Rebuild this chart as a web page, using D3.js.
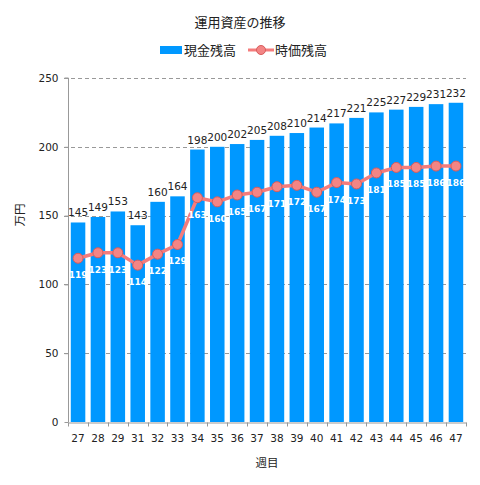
<!DOCTYPE html>
<html>
<head>
<meta charset="utf-8">
<script src="https://cdn.jsdelivr.net/npm/d3@7"></script>
<style>
  body { margin: 0; background: #fff; }
  svg text { font-family: "DejaVu Sans", sans-serif; }
  .jp { font-family: "Noto Sans CJK JP", sans-serif; }
</style>
</head>
<body>
<div id="chart"></div>
<script>
// 週目
const weeks = ['27', '28', '29', '31', '32', '33', '34', '35', '36', '37', '38', '39', '40', '41', '42', '43', '44', '45', '46', '47']
// 現金残高 (万円)
const cashValues = [145, 149, 153, 143, 160, 164, 198, 200, 202, 205, 208, 210, 214, 217, 221, 225, 227, 229, 231, 232]
// 時価残高 (万円)
const marketValues = [119, 123, 123, 114, 122, 129, 163, 160, 165, 167, 171, 172, 167, 174, 173, 181, 185, 185, 186, 186]
const yTicks = [0, 50, 100, 150, 200, 250]

const width = 480
const height = 485
const margin = { top: 78, right: 14, bottom: 63, left: 68 }

const barColor = '#0098ff'
const lineColor = '#f47c7c'

const svg = d3.select('#chart')
    .append('svg')
    .attr('width', width)
    .attr('height', height)

const x = d3.scaleBand()
    .domain(weeks)
    .range([margin.left, width - margin.right])
    .paddingInner(0.27)
    .paddingOuter(0.14)

const y = d3.scaleLinear()
    .domain([0, 250])
    .range([height - margin.bottom, margin.top])

// grid
svg.append('g')
    .selectAll('line')
    .data(yTicks.filter(d => d > 0))
    .enter().append('line')
    .attr('x1', margin.left - 4)
    .attr('x2', width - margin.right)
    .attr('y1', d => Math.round(y(d)) + 0.5)
    .attr('y2', d => Math.round(y(d)) + 0.5)
    .attr('stroke', '#999')
    .attr('stroke-dasharray', '4,3')

// bars
svg.append('g')
    .selectAll('rect')
    .data(weeks)
    .enter().append('rect')
    .attr('x', d => x(d))
    .attr('width', x.bandwidth())
    .attr('y', (d, i) => y(cashValues[i]))
    .attr('height', (d, i) => y(0) - y(cashValues[i]))
    .attr('fill', barColor)

// bar labels
svg.append('g')
    .selectAll('text')
    .data(weeks)
    .enter().append('text')
    .attr('x', d => x(d) + x.bandwidth() / 2)
    .attr('y', (d, i) => y(cashValues[i]) - 6)
    .attr('text-anchor', 'middle')
    .attr('font-size', 10.5)
    .attr('fill', '#222')
    .text((d, i) => cashValues[i])

// y axis
const yAxis = svg.append('g')
    .attr('transform', `translate(${margin.left + 0.5},0)`)
    .call(d3.axisLeft(y).tickValues(yTicks).tickSize(4).tickPadding(6))
yAxis.select('.domain').attr('stroke', '#999').attr('d', `M-4,${y(250)}H0V${y(0)}`)
yAxis.selectAll('.tick line').attr('stroke', '#999')
yAxis.selectAll('.tick text').attr('font-size', 10.5).attr('fill', '#222')
    .style('font-family', '"DejaVu Sans", sans-serif')

// x axis
const xAxis = svg.append('g')
    .attr('transform', `translate(0,${y(0) + 0.5})`)
    .call(d3.axisBottom(x).tickSize(0).tickPadding(12))
xAxis.select('.domain').attr('stroke', '#999')
xAxis.selectAll('.tick text').attr('font-size', 10.5).attr('fill', '#222')
    .style('font-family', '"DejaVu Sans", sans-serif')
// separators between categories
const step = x.step()
xAxis.append('g')
    .selectAll('line')
    .data(weeks.concat(['end']))
    .enter().append('line')
    .attr('x1', (d, i) => Math.round(margin.left + i * step) + 0.5)
    .attr('x2', (d, i) => Math.round(margin.left + i * step) + 0.5)
    .attr('y1', 0)
    .attr('y2', 4)
    .attr('stroke', '#999')

// line
const line = d3.line()
    .x(d => x(d.week) + x.bandwidth() / 2)
    .y(d => y(d.value))
const points = weeks.map((w, i) => ({ week: w, value: marketValues[i] }))

svg.append('path')
    .datum(points)
    .attr('d', line)
    .attr('fill', 'none')
    .attr('stroke', lineColor)
    .attr('stroke-width', 3.5)
    .attr('stroke-linejoin', 'round')

svg.append('g')
    .selectAll('circle')
    .data(points)
    .enter().append('circle')
    .attr('cx', d => x(d.week) + x.bandwidth() / 2)
    .attr('cy', d => y(d.value))
    .attr('r', 5)
    .attr('fill', '#f38585')
    .attr('stroke', '#d85c5c')
    .attr('stroke-width', 1)

svg.append('g')
    .selectAll('text')
    .data(points)
    .enter().append('text')
    .attr('x', d => x(d.week) + x.bandwidth() / 2)
    .attr('y', d => y(d.value) + 20)
    .attr('text-anchor', 'middle')
    .attr('font-size', 9)
    .attr('font-weight', 'bold')
    .attr('fill', '#fff')
    .text(d => d.value)

// title
svg.append('text')
    .attr('class', 'jp')
    .attr('x', 240)
    .attr('y', 27)
    .attr('text-anchor', 'middle')
    .attr('font-size', 13)
    .attr('fill', '#222')
    .text('運用資産の推移')

// legend
const legend = svg.append('g').attr('transform', 'translate(160,52)')
legend.append('rect')
    .attr('x', 0).attr('y', -6)
    .attr('width', 22).attr('height', 8)
    .attr('fill', barColor)
legend.append('text')
    .attr('class', 'jp')
    .attr('x', 24).attr('y', 3)
    .attr('font-size', 13)
    .attr('fill', '#222')
    .text('現金残高')
legend.append('line')
    .attr('x1', 88).attr('x2', 114)
    .attr('y1', -2).attr('y2', -2)
    .attr('stroke', lineColor)
    .attr('stroke-width', 3)
legend.append('circle')
    .attr('cx', 101).attr('cy', -2).attr('r', 4.5)
    .attr('fill', '#f38585')
    .attr('stroke', '#d85c5c')
legend.append('text')
    .attr('class', 'jp')
    .attr('x', 115).attr('y', 3)
    .attr('font-size', 13)
    .attr('fill', '#222')
    .text('時価残高')

// axis titles
svg.append('text')
    .attr('class', 'jp')
    .attr('x', 267)
    .attr('y', 467)
    .attr('text-anchor', 'middle')
    .attr('font-size', 11.5)
    .attr('fill', '#222')
    .text('週目')

svg.append('text')
    .attr('class', 'jp')
    .attr('transform', 'translate(24,215) rotate(-90)')
    .attr('text-anchor', 'middle')
    .attr('font-size', 11.5)
    .attr('fill', '#222')
    .text('万円')
</script>
</body>
</html>
